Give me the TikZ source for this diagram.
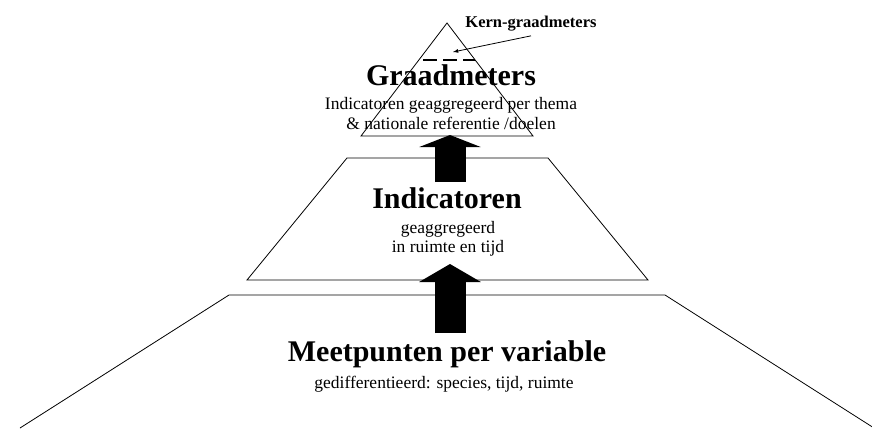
\documentclass[tikz,border=0pt]{standalone}
\usepackage{fontspec}
\setmainfont{Liberation Serif}
\usetikzlibrary{arrows,arrows.meta}

\tikzset{
  level/.style={draw,line width=0.8pt},
  title/.style={anchor=base,inner sep=0pt,font=\fontsize{30}{30}\selectfont\bfseries},
  sub/.style={anchor=base,inner sep=0pt,align=center,font=\fontsize{17.5}{20}\selectfont},
  fat/.style={line width=31pt,-{Triangle[width=61pt,length=#1]}},
}

\begin{document}
\begin{tikzpicture}[>=latex,x=1pt,y=-1pt]
    \useasboundingbox (0,0) rectangle (872,428);
    % the three levels
    \draw[level] (361,136) -- (447,23) -- (533,136) -- cycle;
    \draw[level] (247,280) -- (347,158) -- (548,158) -- (648,280) -- cycle;
    \draw[level] (20,428) -- (229,295) -- (665,295) -- (874,428);
    \draw[line width=2.5pt,dash pattern=on 14pt off 6pt] (423,60) -- (475,60);

    % texts (base of a two line node = its last line)
    \node[title] (grd) at (451,85) {Graadmeters};
    \node[sub] (grdsub) at (451,129) {Indicatoren geaggregeerd per thema\\\& nationale referentie /doelen};
    \node[title] (ind) at (447,208) {Indicatoren};
    \node[sub,font=\fontsize{17.5}{19}\selectfont] (indsub) at (448,252) {geaggregeerd\\ in ruimte en tijd};
    \node[title] (meet) at (447,361) {Meetpunten per variable};
    \node[sub] (meetsub) at (444,388) {gedifferentieerd: species, tijd, ruimte};
    \node[anchor=base,inner sep=0pt,font=\fontsize{16.5}{16.5}\selectfont\bfseries] (kern) at (531,28) {Kern-graadmeters};

    \coordinate (kerntip) at (453,52);
    \coordinate (up1from) at (450,182);
    \coordinate (up1to) at (450,135);
    \coordinate (up2from) at (450,333);
    \coordinate (up2to) at (450,264);

    \draw[->,line width=0.8pt] (kern.south) ++(0,4) -- (kerntip);
    \draw[fat=12pt] (up1from) -- (up1to);
    \draw[fat=18pt] (up2from) -- (up2to);
\end{tikzpicture}
\end{document}
